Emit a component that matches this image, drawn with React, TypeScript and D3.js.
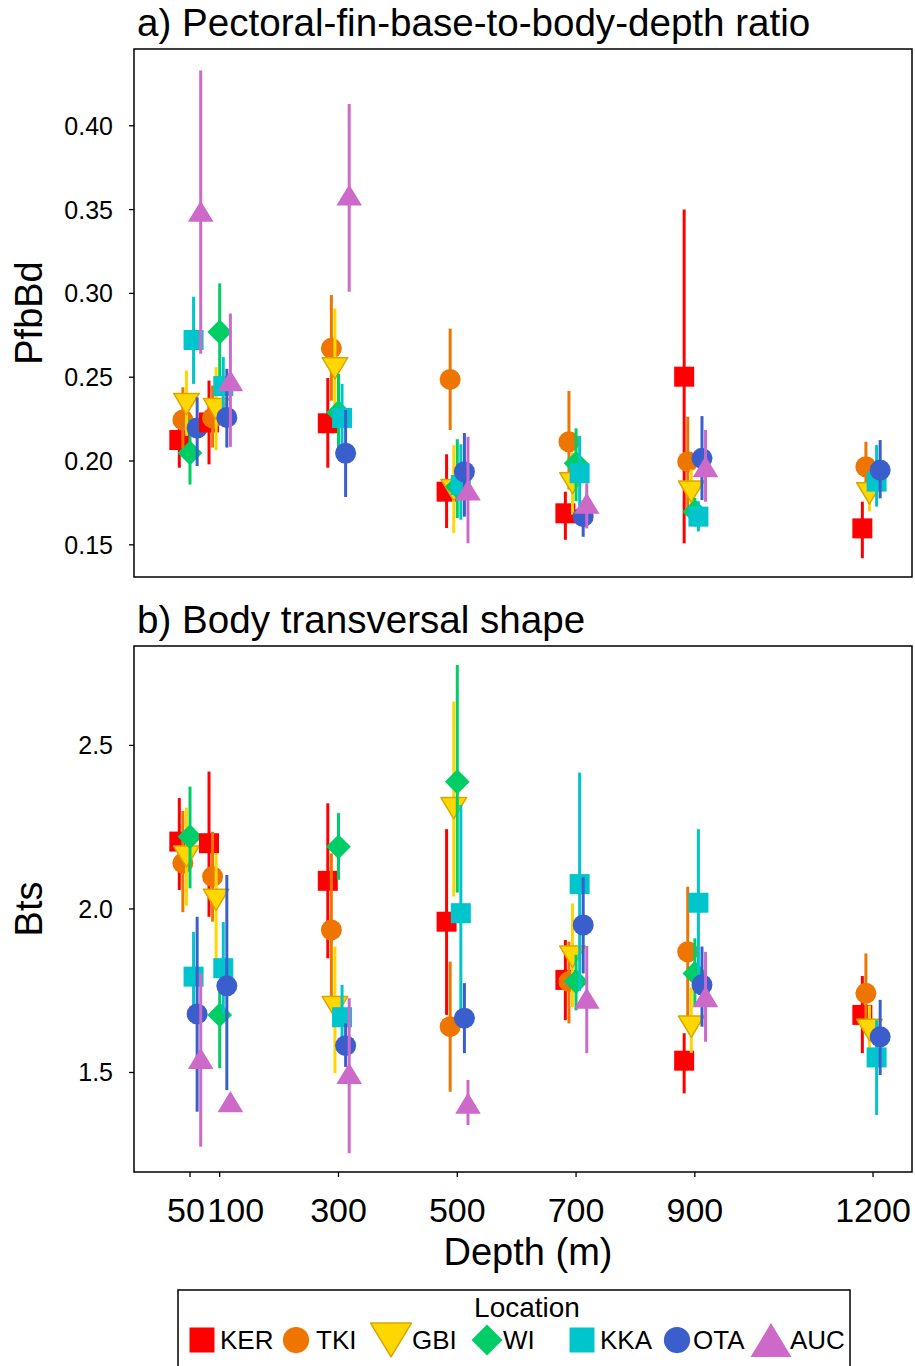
import React from "react";
import * as d3 from "d3";

// Locations, their colours and marker shapes
const locations = ["KER", "TKI", "GBI", "WI", "KKA", "OTA", "AUC"];
const locationColors = ["#FF0000", "#EE7600", "#FFD700", "#00CD66", "#00C5CD", "#3A5FCD", "#CD69C9"];
const locationShapes = ["square", "circle", "triDown", "diamond", "square", "circle", "triUp"];

// Sampling depths (m) and the x-axis labels
const depths = [50, 100, 300, 500, 700, 900, 1200];
const depthLabels = ["50", "100", "300", "500", "700", "900", "1200"];

// a) PfbBd: mean and interval per location (rows) and depth (columns)
const pfbMean = [
  [0.2125, 0.223, 0.2225, 0.1817, 0.1688, 0.2503, 0.1598],
  [0.2245, 0.2257, 0.2672, 0.2487, 0.2115, 0.1996, 0.1966],
  [0.234, 0.231, 0.2553, 0.1827, 0.1867, 0.1817, 0.1807],
  [0.2048, 0.277, 0.229, 0.1847, 0.1986, 0.1698, null],
  [0.2722, 0.2447, 0.2257, 0.1857, 0.1927, 0.1668, 0.1877],
  [0.2197, 0.226, 0.2046, 0.1936, 0.1668, 0.2016, 0.1946],
  [0.349, 0.248, 0.3587, 0.1827, 0.1748, 0.1966, null],
];
const pfbLow = [
  [0.196, 0.198, 0.196, 0.16, 0.153, 0.151, 0.142],
  [0.205, 0.208, 0.236, 0.2185, 0.183, 0.172, 0.182],
  [0.215, 0.2065, 0.22, 0.157, 0.168, 0.168, 0.17],
  [0.186, 0.248, 0.205, 0.166, 0.176, 0.161, null],
  [0.246, 0.228, 0.205, 0.165, 0.17, 0.158, 0.1728],
  [0.197, 0.208, 0.1785, 0.1668, 0.1548, 0.1767, 0.1777],
  [0.264, 0.2085, 0.301, 0.1509, 0.1598, 0.1757, null],
];
const pfbHigh = [
  [0.229, 0.248, 0.2495, 0.204, 0.1817, 0.35, 0.1757],
  [0.244, 0.245, 0.299, 0.279, 0.2418, 0.2264, 0.2115],
  [0.254, 0.256, 0.291, 0.2095, 0.205, 0.195, 0.19],
  [0.225, 0.306, 0.252, 0.213, 0.2195, 0.178, null],
  [0.298, 0.262, 0.246, 0.21, 0.215, 0.176, 0.2095],
  [0.238, 0.255, 0.2304, 0.2167, 0.1767, 0.2268, 0.2125],
  [0.433, 0.288, 0.413, 0.2145, 0.1867, 0.2185, null],
];

// b) Bts: mean and interval per location (rows) and depth (columns)
const btsMean = [
  [2.206, 2.201, 2.086, 1.961, 1.783, 1.536, 1.676],
  [2.14, 2.099, 1.936, 1.64, 1.778, 1.869, 1.742],
  [2.16, 2.028, 1.7, 2.308, 1.854, 1.64, 1.63],
  [2.221, 1.676, 2.19, 2.389, 1.778, 1.803, null],
  [1.793, 1.819, 1.669, 1.987, 2.076, 2.019, 1.546],
  [1.679, 1.765, 1.582, 1.666, 1.951, 1.768, 1.609],
  [1.543, 1.411, 1.497, 1.406, 1.727, 1.732, null],
];
const btsLow = [
  [2.058, 1.976, 1.849, 1.676, 1.66, 1.436, 1.559],
  [1.99, 1.961, 1.7, 1.441, 1.65, 1.67, 1.62],
  [2.01, 1.844, 1.498, 2.038, 1.7, 1.56, 1.543],
  [2.063, 1.513, 2.089, 2.05, 1.69, 1.7, null],
  [1.65, 1.68, 1.57, 1.666, 1.75, 1.8, 1.37],
  [1.38, 1.446, 1.517, 1.559, 1.803, 1.64, 1.492],
  [1.273, 1.39, 1.253, 1.339, 1.559, 1.594, null],
];
const btsHigh = [
  [2.339, 2.42, 2.323, 2.244, 1.905, 1.62, 1.795],
  [2.3, 2.236, 2.17, 1.839, 1.9, 2.068, 1.864],
  [2.31, 2.17, 1.885, 2.634, 2.017, 1.76, 1.705],
  [2.374, 1.77, 2.293, 2.746, 1.86, 1.91, null],
  [1.93, 1.96, 1.768, 2.318, 2.417, 2.244, 1.66],
  [1.976, 2.104, 1.65, 1.773, 2.097, 1.885, 1.722],
  [1.803, 1.43, 1.727, 1.477, 1.887, 1.869, null],
];

const pfbTicks = [0.15, 0.2, 0.25, 0.3, 0.35, 0.4];
const btsTicks = [1.5, 2.0, 2.5];

const FONT = "'Liberation Sans', Arial, Helvetica, sans-serif";
const W = 915;
const H = 1366;
const LEFT = 134;
const RIGHT = 912;
const DODGE = 6; // metres between neighbouring locations

const x = d3.scaleLinear().domain([-44.3, 1265.6]).range([LEFT, RIGHT]);

function shapePath(shape: string, s: number): string {
  const h = s / 2;
  switch (shape) {
    case "square":
      return `M${-h},${-h}H${h}V${h}H${-h}Z`;
    case "circle": {
      const r = h * 1.05;
      return `M${-r},0A${r},${r} 0 1,0 ${r},0A${r},${r} 0 1,0 ${-r},0Z`;
    }
    case "triUp": {
      const w = s * 0.64;
      const t = s * 0.53;
      return `M0,${-t}L${w},${t}L${-w},${t}Z`;
    }
    case "triDown": {
      const w = s * 0.64;
      const t = s * 0.53;
      return `M0,${t}L${w},${-t}L${-w},${-t}Z`;
    }
    case "diamond": {
      const d = s * 0.62;
      return `M0,${-d}L${d},0L0,${d}L${-d},0Z`;
    }
    default:
      return "";
  }
}

function Marker({ i, cx, cy, size }: { i: number; cx: number; cy: number; size: number }) {
  const shape = locationShapes[i];
  const isGbi = shape === "triDown";
  return (
    <path
      d={shapePath(shape, size)}
      transform={`translate(${cx},${cy})`}
      fill={locationColors[i]}
      stroke={isGbi ? "#D9A600" : "none"}
      strokeWidth={isGbi ? 1.5 : 0}
      strokeLinejoin="round"
    />
  );
}

type PanelProps = {
  top: number;
  bottom: number;
  domain: [number, number];
  ticks: number[];
  tickFormat: (v: number) => string;
  mean: (number | null)[][];
  low: (number | null)[][];
  high: (number | null)[][];
  title: string;
  yTitle: string;
  showX: boolean;
};

function Panel({ top, bottom, domain, ticks, tickFormat, mean, low, high, title, yTitle, showX }: PanelProps) {
  const y = d3.scaleLinear().domain(domain).range([bottom, top]);
  const marks: React.ReactNode[] = [];
  depths.forEach((depth, j) => {
    locations.forEach((_, i) => {
      const m = mean[i][j];
      const lo = low[i][j];
      const hi = high[i][j];
      if (m == null || lo == null || hi == null) return;
      const cx = x(depth + (i - 3) * DODGE);
      marks.push(
        <g key={`${i}-${j}`}>
          <line x1={cx} x2={cx} y1={y(lo)} y2={y(hi)} stroke={locationColors[i]} strokeWidth={3} />
          <Marker i={i} cx={cx} cy={y(m)} size={20} />
        </g>
      );
    });
  });
  const midY = (top + bottom) / 2;
  return (
    <g>
      <text x={137} y={top - 13} fontSize={38.6} fontFamily={FONT} fill="#000">
        {title}
      </text>
      <text
        transform={`translate(${42},${midY}) rotate(-90)`}
        textAnchor="middle"
        fontSize={38}
        fontFamily={FONT}
        fill="#000"
      >
        {yTitle}
      </text>
      {ticks.map((t) => (
        <g key={t}>
          <line x1={LEFT - 5} x2={LEFT} y1={y(t)} y2={y(t)} stroke="#000" strokeWidth={1.3} />
          <text
            x={LEFT - 21}
            y={y(t)}
            dy="0.36em"
            textAnchor="end"
            fontSize={25}
            fontFamily={FONT}
            fill="#000"
          >
            {tickFormat(t)}
          </text>
        </g>
      ))}
      {marks}
      <rect x={LEFT} y={top} width={RIGHT - LEFT} height={bottom - top} fill="none" stroke="#000" strokeWidth={1.5} />
      {showX &&
        depths.map((d, k) => (
          <g key={d}>
            <line x1={x(d)} x2={x(d)} y1={bottom} y2={bottom + 5} stroke="#000" strokeWidth={1.3} />
            <text
              x={x(d)}
              y={bottom + 50}
              dx={d === 50 ? -4 : d === 100 ? 16 : 0}
              textAnchor="middle"
              fontSize={34}
              fontFamily={FONT}
              fill="#000"
            >
              {depthLabels[k]}
            </text>
          </g>
        ))}
    </g>
  );
}

function Legend() {
  const keyX = [202, 296, 391, 487, 582, 677, 771];
  const labelX = [220, 316, 412, 503, 600, 693, 790];
  const cy = 1340;
  return (
    <g>
      <rect x={178} y={1290} width={672} height={90} fill="#fff" stroke="#000" strokeWidth={1.5} />
      <text x={527} y={1317} textAnchor="middle" fontSize={28} fontFamily={FONT} fill="#000">
        Location
      </text>
      {locations.map((loc, i) => (
        <g key={loc}>
          <Marker i={i} cx={keyX[i]} cy={cy} size={locationShapes[i] === "triDown" || locationShapes[i] === "triUp" ? 32 : 25} />
          <text x={labelX[i]} y={cy} dy="0.36em" fontSize={26} fontFamily={FONT} fill="#000">
            {loc}
          </text>
        </g>
      ))}
    </g>
  );
}

export default function App() {
  return (
    <svg
      width={W}
      height={H}
      viewBox={`0 0 ${W} ${H}`}
      style={{ position: "absolute", left: 0, top: 0, display: "block", background: "#fff" }}
    >
      <rect width={W} height={H} fill="#fff" />
      <Panel
        top={49}
        bottom={577}
        domain={[0.1308, 0.4458]}
        ticks={pfbTicks}
        tickFormat={(v) => v.toFixed(2)}
        mean={pfbMean}
        low={pfbLow}
        high={pfbHigh}
        title="a) Pectoral-fin-base-to-body-depth ratio"
        yTitle="PfbBd"
        showX={false}
      />
      <Panel
        top={646}
        bottom={1172}
        domain={[1.1957, 2.804]}
        ticks={btsTicks}
        tickFormat={(v) => v.toFixed(1)}
        mean={btsMean}
        low={btsLow}
        high={btsHigh}
        title="b) Body transversal shape"
        yTitle="Bts"
        showX={true}
      />
      <text x={528} y={1265} textAnchor="middle" fontSize={38} fontFamily={FONT} fill="#000">
        Depth (m)
      </text>
      <Legend />
    </svg>
  );
}
